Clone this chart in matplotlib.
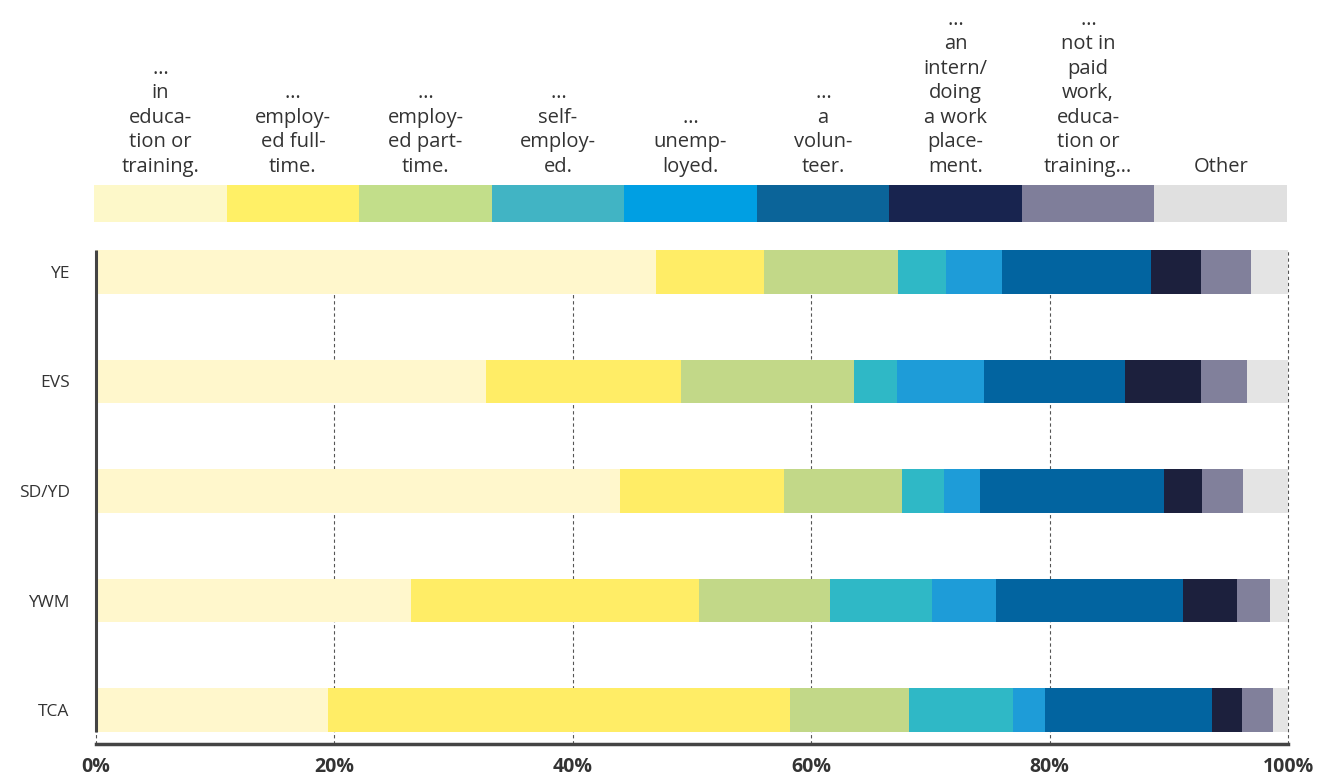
import matplotlib
matplotlib.use("Agg")
import matplotlib.pyplot as plt
import numpy as np

# ---------------- data ----------------
groups = ["YE", "EVS", "SD/YD", "YWM", "TCA"]
categories = [
    "…\nin\neduca-\ntion or\ntraining.",
    "…\nemploy-\ned full-\ntime.",
    "…\nemploy-\ned part-\ntime.",
    "…\nself-\nemploy-\ned.",
    "…\nunemp-\nloyed.",
    "…\na\nvolun-\nteer.",
    "…\nan\nintern/\ndoing\na work\nplace-\nment.",
    "…\nnot in\npaid\nwork,\neduca-\ntion or\ntraining…",
    "Other",
]
# shares in percent, one list per category (order of groups above)
in_education   = [47.0, 32.7, 44.0, 26.4, 19.5]
full_time      = [9.0, 16.4, 13.7, 24.2, 38.7]
part_time      = [11.3, 14.5, 9.9, 11.0, 10.0]
self_employed  = [4.0, 3.6, 3.5, 8.5, 8.7]
unemployed     = [4.7, 7.3, 3.1, 5.4, 2.7]
volunteer      = [12.5, 11.8, 15.4, 15.7, 14.0]
intern         = [4.2, 6.4, 3.2, 4.5, 2.5]
not_in_work    = [4.2, 3.9, 3.4, 2.8, 2.6]
other          = [3.1, 3.4, 3.8, 1.5, 1.3]
series = [in_education, full_time, part_time, self_employed, unemployed,
          volunteer, intern, not_in_work, other]
xticks = [0, 20, 40, 60, 80, 100]
xticklabels = ["0%", "20%", "40%", "60%", "80%", "100%"]

bar_colors = ["#FFF7CC", "#FFED66", "#C2D888", "#2FB8C6", "#1E9CD8",
              "#0264A0", "#1C203D", "#81809B", "#E4E4E4"]
legend_colors = ["#FDF8C9", "#FFF066", "#C2DE8A", "#41B4C4", "#009FE3",
                 "#0B6499", "#18244F", "#7F7E9A", "#E0E0E0"]

FONT = "Open Sans"
TXT = "#333333"

W, H = 1317, 774
fig = plt.figure(figsize=(W / 100, H / 100), dpi=100)

# ---------------- main chart ----------------
ax = fig.add_axes([96 / W, (H - 744) / H, (1288 - 96) / W, 494 / H])
y = np.arange(len(groups))
left = np.zeros(len(groups))
for vals, col in zip(series, bar_colors):
    v = np.array(vals)
    ax.barh(y, v, left=left, height=0.4, color=col, zorder=3, linewidth=0)
    left += v

ax.set_xlim(0, 100)
ax.set_ylim(4.31, -0.2)
ax.set_yticks(y)
ax.set_yticklabels(groups, fontfamily=FONT, fontsize=12.5, color=TXT)
ax.set_xticks(xticks)
ax.set_xticklabels(xticklabels, fontfamily=FONT, fontsize=14,
                   fontweight="bold", color=TXT)
ax.tick_params(axis="y", length=0, pad=19)
ax.tick_params(axis="x", length=0, pad=9)

ax.grid(axis="x", color="#555555", linestyle=(0, (3, 2.5)), linewidth=0.8, zorder=0)
ax.grid(axis="y", visible=False)
for gl in ax.get_xgridlines():
    gl.set_clip_on(False)
for s in ["top", "right", "left"]:
    ax.spines[s].set_visible(False)
ax.plot([0, 0], [-0.2, 4.2], color="#444444", linewidth=2.2, clip_on=False,
        zorder=5, solid_capstyle="butt")
ax.spines["bottom"].set_color("#444444")
ax.spines["bottom"].set_linewidth(2.5)

# ---------------- legend strip ----------------
lax = fig.add_axes([94 / W, (H - 222) / H, (1287 - 94) / W, 37 / H])
n = len(categories)
lax.bar(np.arange(n) + 0.5, [1] * n, width=1.0, color=legend_colors, linewidth=0)
lax.set_xlim(0, n)
lax.set_ylim(0, 1)
lax.axis("off")
for i, lab in enumerate(categories):
    lax.annotate(lab, xy=(i + 0.5, 1.0), xytext=(0, 6), textcoords="offset points",
                 ha="center", va="bottom", multialignment="center",
                 fontfamily=FONT, fontsize=14.5, color=TXT, linespacing=1.3)

fig.savefig("out.png", dpi=100)
